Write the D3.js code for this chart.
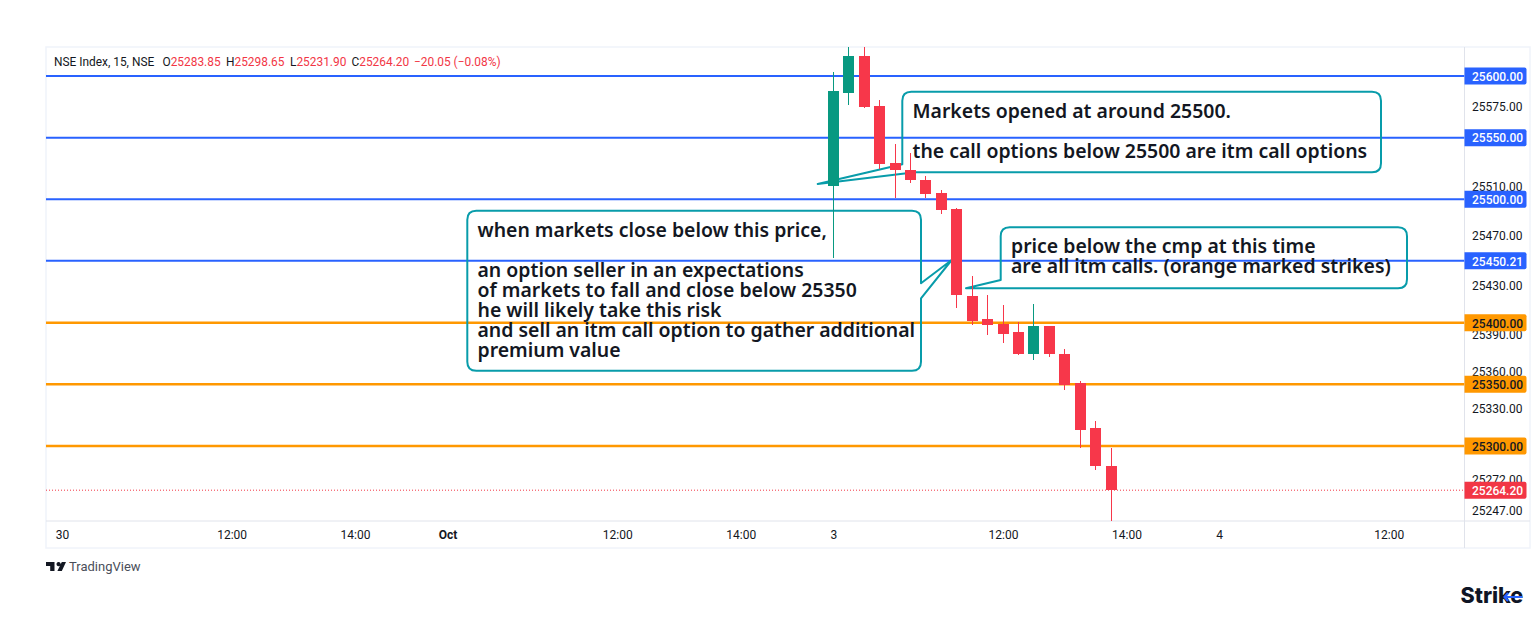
<!DOCTYPE html>
<html lang="en">
<head>
<meta charset="utf-8"/>
<style>
    html, body { margin: 0; padding: 0; background: #fff; }
    svg { display: block; }
    .axis text { font-family: Roboto, sans-serif; font-size: 12px; fill: #131722; }
    .note { font-family: "Noto Sans", sans-serif; font-size: 19.45px; font-weight: 600; fill: #131722; }
    .head { font-family: Roboto, sans-serif; font-size: 11.9px; }
</style>
</head>
<body>
<svg id="chart" width="1540" height="618"></svg>
<script src="https://d3js.org/d3.v7.min.js"></script>
<script>
// candles, bar index 0 is the open of 3 Oct
var bars   = [0, 1, 2, 3, 4, 5, 6, 7, 8, 9, 10, 11, 12, 13, 14, 15, 16, 17, 18];
var opens  = [25511.1, 25586.5, 25616.2, 25575.7, 25529.3, 25523.9, 25515.8, 25505.0, 25492.3, 25421.8, 25403.2, 25399.1, 25392.6, 25374.8, 25397.5, 25374.8, 25351.3, 25314.9, 25283.85];
var highs  = [25603.0, 25629.0, 25629.0, 25580.6, 25544.9, 25537.4, 25519.0, 25507.7, 25492.8, 25438.0, 25422.6, 25414.5, 25400.7, 25415.3, 25397.5, 25378.9, 25352.9, 25320.5, 25298.65];
var lows   = [25452.8, 25576.5, 25574.3, 25524.4, 25501.4, 25513.3, 25501.4, 25488.2, 25412.3, 25398.3, 25390.2, 25383.7, 25374.0, 25370.0, 25372.4, 25345.6, 25298.7, 25280.9, 25231.9];
var closes = [25587.85, 25616.2, 25575.1, 25528.7, 25523.9, 25515.8, 25504.7, 25491.5, 25422.6, 25401.5, 25398.3, 25391.0, 25374.8, 25397.5, 25374.8, 25349.7, 25313.2, 25284.0, 25264.2];

var blueLevels   = [25600, 25550, 25500, 25450.21];
var orangeLevels = [25400, 25350, 25300];
var lastPrice    = 25264.2;

var priceTicks = [25575, 25510, 25470, 25430, 25390, 25360, 25330, 25272, 25247];
var timeTicks  = [-50, -39, -31, -25, -14, -6, 0, 11, 19, 25, 36];
var timeLabels = ["30", "12:00", "14:00", "Oct", "12:00", "14:00", "3", "12:00", "14:00", "4", "12:00"];

var noteOne   = ["Markets opened at around 25500.", "", "the call options below 25500 are itm call options"];
var noteTwo   = ["when markets close below this price,", "", "an option seller in an expectations", "of markets to fall and close below 25350", "he will likely take this risk", "and sell an itm call option to gather additional", "premium value"];
var noteThree = ["price below the cmp at this time", "are all itm calls. (orange marked strikes)"];

var headNames  = ["O", "H", "L", "C"];
var headValues = ["25283.85", "25298.65", "25231.90", "25264.20"];

var BLUE = "#2962ff", ORANGE = "#ff9800", RED = "#f23645", GREEN = "#089981", TEAL = "#089caa";
var UP = GREEN, DOWN = "#f7374a";

var left = 46, right = 1464.5, top_ = 47, bottom = 521, frameR = 1530, frameB = 548;

var x = d3.scaleLinear().domain([-50, 25]).range([61.9, 1219]);
var y = d3.scaleLinear().domain([lastPrice, 25600]).range([490.2, 76]);

var svg = d3.select("#chart");

svg.append("defs").append("clipPath").attr("id", "plot")
    .append("rect").attr("x", left).attr("y", top_).attr("width", right - left).attr("height", bottom - top_);

// frame
svg.append("rect").attr("x", left).attr("y", top_).attr("width", frameR - left).attr("height", frameB - top_)
    .attr("fill", "none").attr("stroke", "#f0f3fa").attr("stroke-width", 1.5);
svg.append("line").attr("x1", right).attr("x2", right).attr("y1", top_).attr("y2", frameB).attr("stroke", "#e0e3eb");
svg.append("line").attr("x1", left).attr("x2", frameR).attr("y1", bottom).attr("y2", bottom).attr("stroke", "#e0e3eb");

var plot = svg.append("g").attr("clip-path", "url(#plot)");

// last price dotted line
plot.append("line").attr("x1", left).attr("x2", right).attr("y1", y(lastPrice)).attr("y2", y(lastPrice))
    .attr("stroke", RED).attr("stroke-dasharray", "1 2");

// horizontal levels
plot.selectAll(".blue").data(blueLevels).enter().append("line")
    .attr("x1", left).attr("x2", right)
    .attr("y1", function(d) { return y(d); }).attr("y2", function(d) { return y(d); })
    .attr("stroke", BLUE).attr("stroke-width", 2);
plot.selectAll(".orange").data(orangeLevels).enter().append("line")
    .attr("x1", left).attr("x2", right)
    .attr("y1", function(d) { return y(d); }).attr("y2", function(d) { return y(d); })
    .attr("stroke", ORANGE).attr("stroke-width", 2.5);

// callout outlines, these sit under the candles
var r = 9;
var outlines = [
    "M" + (902.3 + r) + ",91.7 H" + (1381 - r) + " Q1381,91.7 1381," + (91.7 + r) + " V" + (172.3 - r) + " Q1381,172.3 " + (1381 - r) + ",172.3 H915 L817.7,184 L902.3,164.3 V" + (91.7 + r) + " Q902.3,91.7 " + (902.3 + r) + ",91.7 Z",
    "M" + (467.3 + r) + ",210.7 H" + (921 - r) + " Q921,210.7 921," + (210.7 + r) + " V283.3 L951.7,260 L921,298.3 V" + (370.7 - r) + " Q921,370.7 " + (921 - r) + ",370.7 H" + (467.3 + r) + " Q467.3,370.7 467.3," + (370.7 - r) + " V" + (210.7 + r) + " Q467.3,210.7 " + (467.3 + r) + ",210.7 Z",
    "M" + (1000.7 + r) + ",227.3 H" + (1407 - r) + " Q1407,227.3 1407," + (227.3 + r) + " V" + (288.3 - r) + " Q1407,288.3 " + (1407 - r) + ",288.3 H966 L1000.7,280 V" + (227.3 + r) + " Q1000.7,227.3 " + (1000.7 + r) + ",227.3 Z"
];
plot.selectAll(".callout").data(outlines).enter().append("path")
    .attr("d", function(d) { return d; })
    .attr("fill", "none").attr("stroke", TEAL).attr("stroke-width", 2).attr("stroke-linejoin", "round");

// candles, snapped to whole pixels so the bodies stay crisp
function barLeft(d) { return Math.round(x(d) - 5.4); }
var candle = plot.selectAll(".candle").data(bars).enter().append("g");
candle.append("line")
    .attr("x1", function(d) { return barLeft(d) + 5.5; }).attr("x2", function(d) { return barLeft(d) + 5.5; })
    .attr("y1", function(d, i) { return Math.round(y(highs[i])); })
    .attr("y2", function(d, i) { return Math.round(y(lows[i])); })
    .attr("stroke", function(d, i) { return closes[i] > opens[i] ? UP : DOWN; });
candle.append("rect")
    .attr("x", barLeft)
    .attr("width", 11)
    .attr("y", function(d, i) { return Math.round(y(Math.max(opens[i], closes[i]))); })
    .attr("height", function(d, i) { return Math.round(y(Math.min(opens[i], closes[i]))) - Math.round(y(Math.max(opens[i], closes[i]))); })
    .attr("fill", function(d, i) { return closes[i] > opens[i] ? UP : DOWN; });

// callout text
function note(lines, px, baselines) {
    svg.selectAll(null).data(lines).enter().append("text")
        .attr("class", "note")
        .attr("x", px)
        .attr("y", function(d, i) { return baselines[i]; })
        .text(function(d) { return d; });
}
note(noteOne, 912.5, [117.7, 137.7, 157.7]);
note(noteTwo, 477.5, [236.7, 256.7, 276.7, 296.7, 316.7, 336.7, 356.7]);
note(noteThree, 1011, [253, 273.3]);

// axes, labels sit a touch above the level they name
var yAxis = d3.axisRight(y).tickValues(priceTicks).tickSize(0).tickPadding(7.5)
    .tickFormat(function(d) { return d.toFixed(2); });
svg.append("g").attr("class", "axis").attr("transform", "translate(" + right + ",-0.5)").call(yAxis)
    .call(function(g) { g.select(".domain").remove(); });

var xAxis = d3.axisBottom(x).tickValues(timeTicks).tickSize(0).tickPadding(0)
    .tickFormat(function(d, i) { return timeLabels[i]; });
svg.append("g").attr("class", "axis").attr("transform", "translate(0,530)").call(xAxis)
    .call(function(g) {
        g.select(".domain").remove();
        g.selectAll("text").attr("dy", "0.71em")
            .style("font-weight", function(d) { return d === -25 ? 700 : 400; });
    });

// price labels on the scale
var levelLabels = blueLevels.map(function(d) { return { v: d, bg: BLUE, fg: "#fff" }; })
    .concat(orangeLevels.map(function(d) { return { v: d, bg: ORANGE, fg: "#131722" }; }))
    .concat([{ v: lastPrice, bg: RED, fg: "#fff" }]);
var tag = svg.selectAll(".tag").data(levelLabels).enter().append("g")
    .attr("transform", function(d) { return "translate(" + right + "," + y(d.v) + ")"; });
tag.append("path")
    .attr("d", "M0,-8.5 H60 Q62,-8.5 62,-6.5 V6.5 Q62,8.5 60,8.5 H0 Z")
    .attr("fill", function(d) { return d.bg; });
tag.append("text")
    .attr("x", 7.5).attr("dy", "0.4em")
    .style("font-family", "Roboto, sans-serif").style("font-size", "12px").style("font-weight", 500)
    .attr("fill", function(d) { return d.fg; })
    .text(function(d) { return d.v.toFixed(2); });

// legend row
var head = svg.append("text").attr("class", "head").attr("x", 54).attr("y", 66).attr("fill", "#131722");
head.append("tspan").text("NSE Index, 15, NSE");
var headX = [162.5, 226, 290, 351.5];
headNames.forEach(function(n, i) {
    head.append("tspan").attr("x", headX[i]).text(n);
    head.append("tspan").attr("fill", RED).text(headValues[i]);
});
head.append("tspan").attr("x", 414).attr("fill", RED).text("\u221220.05 (\u22120.08%)");

// TradingView mark
svg.append("path").attr("fill", "#131722")
    .attr("d", "M46,562 H54.5 V571 H50.2 V566 H46 Z M58.6,562 A2.1,2.1 0 1 1 58.59,562 Z M61.8,562 H66 L61.8,571 H57.4 Z");
svg.append("text").attr("x", 69).attr("y", 570.5).attr("fill", "#4a4e59")
    .style("font-family", "Roboto, sans-serif").style("font-size", "13px").text("TradingView");

// Strike mark
svg.append("text").attr("x", 1460.5).attr("y", 603).attr("fill", "#0f1525")
    .style("font-family", "Inter, sans-serif").style("font-size", "21.5px").style("font-weight", 800).text("Strike");
svg.append("path").attr("fill", "none").attr("stroke", BLUE).attr("stroke-width", 2.2)
    .attr("d", "M1508,593 L1504.5,597 L1508,601 M1504.5,597 H1522");
</script>
</body>
</html>
